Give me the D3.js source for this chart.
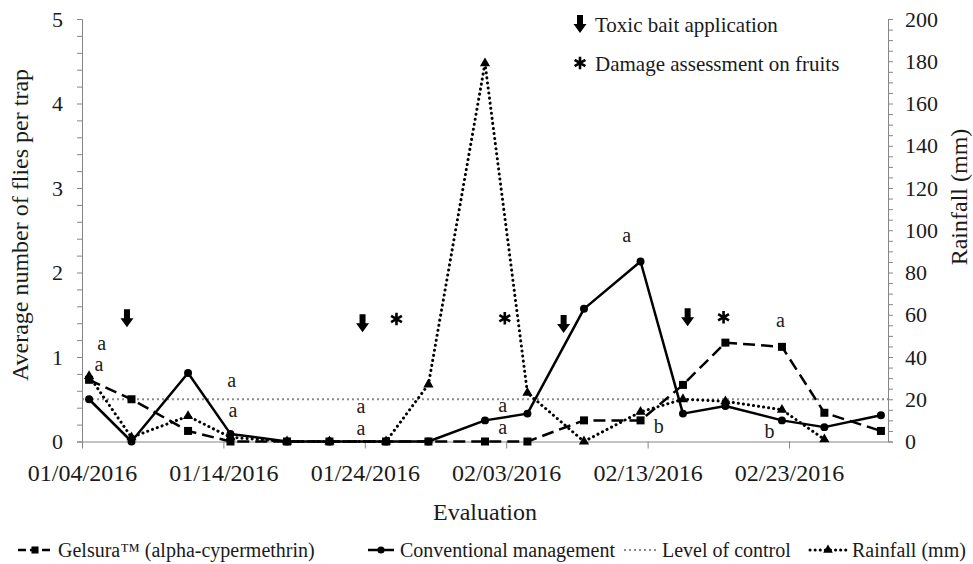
<!DOCTYPE html>
<html>
<head>
<meta charset="utf-8">
<script src="https://cdn.jsdelivr.net/npm/d3@7"></script>
<style>
  body { margin: 0; background: #fff; }
  svg, svg text { font-family: "Liberation Serif", "Times New Roman", serif; }
  .eixo path, .eixo line { stroke: #868686; stroke-width: 1; }
  .eixo text { fill: #1a1a1a; }
</style>
</head>
<body>
<svg id="grafico"></svg>
<script>
// evaluation dates (twice a week)
const dates = ['2016-01-04', '2016-01-07', '2016-01-11', '2016-01-14', '2016-01-18', '2016-01-21',
  '2016-01-25', '2016-01-28', '2016-02-01', '2016-02-04', '2016-02-08', '2016-02-12',
  '2016-02-15', '2016-02-18', '2016-02-22', '2016-02-25', '2016-02-29'];

// average flies per trap
const gelsura = [0.73, 0.5, 0.125, 0, 0, 0, 0, 0, 0, 0, 0.25, 0.25, 0.67, 1.17, 1.12, 0.34, 0.125];
const conventional = [0.5, 0, 0.81, 0.09, 0, 0, 0, 0, 0.25, 0.33, 1.57, 2.13, 0.33, 0.42, 0.25, 0.17, 0.31];
// rainfall in mm (no value on the last date)
const rainfall = [31, 2, 12, 2, 0, 0, 0, 27, 179, 23, 0, 14, 20, 19, 15, 1, null];
const levelOfControl = 0.5;

const xTickDates = ['2016-01-04', '2016-01-14', '2016-01-24', '2016-02-03', '2016-02-13', '2016-02-23'];
const yTicks = [0, 1, 2, 3, 4, 5];
const rainTicks = [0, 20, 40, 60, 80, 100, 120, 140, 160, 180, 200];

// annotations, in days after 01/04/2016 and in flies per trap
const baitDays = [3.18, 19.84, 34.06, 42.83];
const baitLevels = [1.46, 1.40, 1.39, 1.47];
const damageDays = [22.24, 29.9, 45.37];
const damageLevels = [1.45, 1.46, 1.47];
const letterTexts = ['a', 'a', 'a', 'a', 'a', 'a', 'a', 'a', 'a', 'b', 'a', 'b'];
const letterDays = [1.39, 1.2, 10.58, 10.67, 19.72, 19.72, 29.75, 29.75, 38.52, 40.78, 49.4, 48.62];
const letterLevels = [1.08, 0.83, 0.64, 0.29, 0.34, 0.08, 0.35, 0.09, 2.36, 0.10, 1.36, 0.04];

const legendNames = ['Gelsura\u2122 (alpha-cypermethrin)', 'Conventional management', 'Level of control', 'Rainfall (mm)'];

const largura = 973, altura = 564;
const margem = { esquerda: 82, direita: 85, superior: 19, inferior: 122.5 };
const larguraPlot = largura - margem.esquerda - margem.direita;
const alturaPlot = altura - margem.superior - margem.inferior;
const fonte = '"Liberation Serif", "Times New Roman", serif';

const svg = d3.select('#grafico').attr('width', largura).attr('height', altura);
const plot = svg.append('g').attr('transform', `translate(${margem.esquerda},${margem.superior})`);

const parse = d3.utcParse('%Y-%m-%d');
const inicio = parse('2016-01-04');
const fim = parse('2016-03-01');
const x = d3.scaleUtc().domain([inicio, fim]).range([0, larguraPlot]);
const y = d3.scaleLinear().domain([0, 5]).range([alturaPlot, 0]);
const yChuva = d3.scaleLinear().domain([0, 200]).range([alturaPlot, 0]);

const porDia = dia => x(new Date(inicio.getTime() + dia * 864e5));
const meioDia = d => x(d3.utcHour.offset(d, 12));

// eixos
const eixoY = d3.axisLeft(y).tickValues(d3.range(0, 5.001, 0.2)).tickSize(5).tickPadding(14)
  .tickFormat(d => yTicks.includes(Math.round(d * 10) / 10) ? d3.format('d')(d) : '');
plot.append('g').attr('class', 'eixo').call(eixoY)
  .attr('font-family', fonte).attr('font-size', 22);

const eixoChuva = d3.axisRight(yChuva).tickValues(d3.range(0, 200.1, 5)).tickSize(5).tickPadding(12)
  .tickFormat(d => rainTicks.includes(d) ? d : '');
plot.append('g').attr('class', 'eixo').attr('transform', `translate(${larguraPlot},0)`).call(eixoChuva)
  .attr('font-family', fonte).attr('font-size', 22);

const eixoX = d3.axisBottom(x).tickValues(xTickDates.map(parse)).tickSize(7).tickPadding(15)
  .tickFormat(d3.utcFormat('%m/%d/%Y'));
plot.append('g').attr('class', 'eixo').attr('transform', `translate(0,${alturaPlot})`).call(eixoX)
  .attr('font-family', fonte).attr('font-size', 24)
  .call(g => g.select('.domain').attr('d', `M0,0.5H${larguraPlot}`));

// títulos dos eixos
svg.append('text').attr('transform', 'translate(28,225) rotate(-90)').attr('text-anchor', 'middle')
  .attr('font-size', 24).attr('fill', '#1a1a1a').text('Average number of flies per trap');
svg.append('text').attr('transform', 'translate(967,197) rotate(-90)').attr('text-anchor', 'middle')
  .attr('font-size', 24).attr('fill', '#1a1a1a').text('Rainfall (mm)');
svg.append('text').attr('x', margem.esquerda + larguraPlot / 2).attr('y', 520).attr('text-anchor', 'middle')
  .attr('font-size', 24).attr('fill', '#1a1a1a').text('Evaluation');

// séries
const series = [
  { nome: 'gelsura', valores: gelsura, escala: y, simbolo: d3.symbolSquare, tamanho: 64, dash: '12,6', largura: 2.5, cap: 'butt' },
  { nome: 'conventional', valores: conventional, escala: y, simbolo: d3.symbolCircle, tamanho: 50, dash: null, largura: 2.5, cap: 'butt' },
  { nome: 'rainfall', valores: rainfall, escala: yChuva, simbolo: d3.symbolTriangle, tamanho: 45, dash: '0.1,5', largura: 3, cap: 'round' }
];

// linha do nível de controle
plot.append('line')
  .attr('x1', 0).attr('x2', larguraPlot)
  .attr('y1', y(levelOfControl)).attr('y2', y(levelOfControl))
  .attr('stroke', '#8a8a8a').attr('stroke-width', 2).attr('stroke-dasharray', '2,3');

const ordem = [series[2], series[0], series[1]];
ordem.forEach(s => {
  const dados = dates.map((d, i) => ({ data: parse(d), valor: s.valores[i] }));
  const linha = d3.line().defined(d => d.valor != null)
    .x(d => meioDia(d.data)).y(d => s.escala(d.valor));
  plot.append('path').datum(dados)
    .attr('fill', 'none').attr('stroke', '#000').attr('stroke-width', s.largura)
    .attr('stroke-dasharray', s.dash).attr('stroke-linecap', s.cap).attr('stroke-linejoin', 'round')
    .attr('d', linha);
  plot.selectAll('.ponto-' + s.nome).data(dados.filter(d => d.valor != null)).enter()
    .append('path').attr('class', 'ponto-' + s.nome)
    .attr('transform', d => `translate(${meioDia(d.data)},${s.escala(d.valor)})`)
    .attr('d', d3.symbol(s.simbolo, s.tamanho)).attr('fill', '#000');
});

// setas e asteriscos
const seta = (cx, cy) => `M${cx - 3},${cy - 9}h6v9h3.5l-6.5,9l-6.5,-9h3.5z`;
baitDays.forEach((d, i) => {
  plot.append('path').attr('d', seta(porDia(d), y(baitLevels[i]))).attr('fill', '#000');
});
damageDays.forEach((d, i) => {
  plot.append('path').attr('transform', `translate(${porDia(d)},${y(damageLevels[i])})`)
    .attr('d', d3.symbol(d3.symbolAsterisk, 110)).attr('stroke', '#000').attr('stroke-width', 2.6).attr('fill', 'none');
});
letterTexts.forEach((t, i) => {
  plot.append('text').attr('x', porDia(letterDays[i])).attr('y', y(letterLevels[i]))
    .attr('text-anchor', 'middle').attr('font-size', 20).attr('fill', '#1a1a1a').text(t);
});

// legenda superior
svg.append('path').attr('d', seta(580, 24)).attr('fill', '#000');
svg.append('text').attr('x', 595).attr('y', 32).attr('font-size', 21).attr('fill', '#1a1a1a').text('Toxic bait application');
svg.append('path').attr('transform', 'translate(580,63)').attr('d', d3.symbol(d3.symbolAsterisk, 110))
  .attr('stroke', '#000').attr('stroke-width', 2.6).attr('fill', 'none');
svg.append('text').attr('x', 595).attr('y', 71).attr('font-size', 21).attr('fill', '#1a1a1a').text('Damage assessment on fruits');

// legenda inferior
const legenda = svg.append('g');
const inicios = [18, 368, 624, 810];
const amostras = [
  { dash: '8,4', largura: 2.5, cor: '#000', simbolo: d3.symbolSquare, tamanho: 50, cap: 'butt', texto: 40 },
  { dash: null, largura: 2.5, cor: '#000', simbolo: d3.symbolCircle, tamanho: 40, cap: 'butt', texto: 32 },
  { dash: '2,3', largura: 2, cor: '#8a8a8a', simbolo: null, cap: 'butt', texto: 38 },
  { dash: '0.1,5', largura: 3, cor: '#000', simbolo: d3.symbolTriangle, tamanho: 40, cap: 'round', texto: 42 }
];
legendNames.forEach((nome, i) => {
  const a = amostras[i];
  const g = legenda.append('g').attr('transform', `translate(${inicios[i]},550)`);
  g.append('line').attr('x1', 0).attr('x2', a.texto - 6).attr('stroke', a.cor).attr('stroke-width', a.largura)
    .attr('stroke-dasharray', a.dash).attr('stroke-linecap', a.cap);
  if (a.simbolo) g.append('path').attr('transform', `translate(${(a.texto - 6) / 2},0)`).attr('d', d3.symbol(a.simbolo, a.tamanho)).attr('fill', '#000');
  g.append('text').attr('x', a.texto).attr('y', 7).attr('font-size', 20).attr('fill', '#1a1a1a').text(nome);
});
</script>
</body>
</html>
